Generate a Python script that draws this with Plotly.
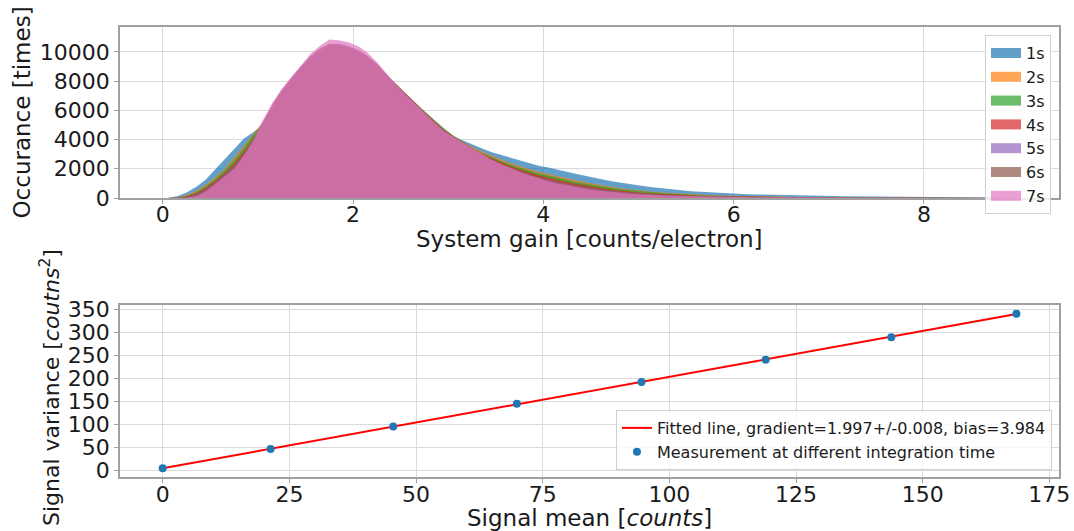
import plotly.graph_objects as go

# ---------------- data ----------------
bin_centers = [round(0.05 + 0.1 * i, 2) for i in range(90)]

gain_1s = [0, 120, 380, 750, 1250, 1950, 2650, 3350, 4050, 4500,
           5000, 6000, 7000, 7900, 8700, 9300, 9750, 10000, 10050, 9950,
           9700, 9300, 8750, 8150, 7500, 6900, 6300, 5700, 5150, 4650,
           4250, 3950, 3650, 3400, 3150, 2950, 2750, 2550, 2350, 2200,
           2080, 1950, 1800, 1650, 1500, 1350, 1230, 1110, 1000, 900,
           820, 740, 660, 590, 530, 470, 420, 380, 345, 315,
           290, 265, 245, 225, 210, 195, 180, 168, 156, 145,
           135, 126, 118, 110, 103, 96, 90, 84, 78, 73,
           68, 64, 60, 56, 52, 48, 45, 42, 38, 30]
gain_2s = [0, 40, 200, 480, 900, 1400, 2000, 2750, 3550, 4350,
           5200, 6200, 7200, 8050, 8850, 9500, 9950, 10250, 10300, 10150,
           9900, 9500, 8950, 8300, 7650, 7000, 6400, 5800, 5250, 4700,
           4250, 3850, 3500, 3200, 2900, 2650, 2400, 2180, 1980, 1800,
           1640, 1480, 1330, 1190, 1060, 940, 830, 730, 640, 560,
           490, 430, 375, 330, 290, 255, 225, 200, 178, 158,
           140, 125, 112, 100, 90, 80, 72, 65, 58, 52,
           47, 42, 38, 34, 31, 28, 25, 23, 21, 19,
           17, 15, 14, 12, 11, 10, 9, 8, 6, 0]
gain_3s = [0, 20, 150, 400, 800, 1300, 1900, 2600, 3400, 4250,
           5150, 6150, 7150, 8050, 8850, 9500, 10000, 10300, 10350, 10200,
           9950, 9550, 9000, 8400, 7800, 7150, 6550, 5950, 5350, 4800,
           4300, 3850, 3450, 3100, 2800, 2550, 2300, 2080, 1880, 1700,
           1540, 1390, 1240, 1100, 970, 860, 760, 670, 590, 520,
           455, 400, 350, 305, 265, 232, 203, 178, 157, 138,
           122, 108, 96, 85, 76, 68, 61, 54, 48, 43,
           38, 34, 30, 27, 24, 22, 20, 18, 16, 14,
           13, 11, 10, 9, 8, 7, 6, 5, 4, 0]
gain_4s = [0, 10, 100, 320, 680, 1150, 1700, 2350, 3150, 4000,
           5100, 6200, 7200, 8100, 8900, 9550, 10050, 10400, 10450, 10300,
           10050, 9650, 9100, 8450, 7800, 7150, 6500, 5900, 5300, 4700,
           4250, 3800, 3400, 3050, 2720, 2440, 2180, 1950, 1740, 1550,
           1380, 1220, 1080, 950, 830, 720, 625, 540, 465, 400,
           345, 300, 260, 225, 195, 170, 150, 132, 117, 104,
           93, 83, 74, 66, 59, 53, 47, 42, 38, 34,
           30, 27, 24, 21, 19, 17, 15, 13, 12, 10,
           9, 8, 7, 6, 5, 4, 3, 2, 1, 0]
gain_5s = [0, 0, 40, 220, 560, 1050, 1580, 2200, 3000, 3950,
           5150, 6300, 7300, 8150, 8950, 9650, 10150, 10500, 10500, 10350,
           10100, 9700, 9150, 8450, 7750, 7100, 6450, 5850, 5200, 4600,
           4150, 3720, 3320, 2950, 2620, 2330, 2060, 1820, 1600, 1410,
           1240, 1090, 950, 825, 715, 615, 530, 455, 390, 335,
           288, 248, 214, 185, 160, 139, 121, 106, 93, 82,
           73, 65, 58, 52, 46, 41, 37, 33, 29, 26,
           23, 20, 18, 16, 14, 12, 11, 10, 9, 8,
           7, 6, 5, 4, 3, 3, 2, 1, 1, 0]
gain_6s = [0, 0, 20, 170, 500, 1000, 1500, 2100, 2950, 3920,
           5200, 6400, 7400, 8250, 9000, 9700, 10250, 10550, 10550, 10400,
           10150, 9750, 9200, 8450, 7750, 7100, 6450, 5850, 5180, 4580,
           4150, 3700, 3300, 2920, 2580, 2280, 2000, 1760, 1540, 1340,
           1170, 1020, 880, 760, 650, 555, 470, 400, 340, 290,
           250, 215, 185, 160, 140, 122, 107, 95, 84, 76,
           68, 60, 54, 48, 43, 39, 35, 31, 28, 25,
           22, 20, 18, 16, 14, 12, 11, 10, 9, 8,
           7, 6, 5, 4, 4, 3, 2, 2, 1, 0]
gain_7s = [0, 0, 10, 120, 450, 950, 1450, 2000, 2900, 3900,
           5300, 6500, 7450, 8250, 9050, 9850, 10400, 10850, 10800, 10650,
           10400, 9950, 9300, 8500, 7750, 7100, 6450, 5850, 5200, 4600,
           4200, 3800, 3400, 3000, 2650, 2350, 2050, 1800, 1550, 1330,
           1150, 1000, 860, 740, 630, 530, 450, 380, 320, 270,
           230, 200, 170, 150, 130, 115, 100, 90, 80, 75,
           65, 58, 52, 46, 42, 38, 34, 30, 27, 24,
           21, 19, 17, 15, 13, 12, 11, 10, 9, 8,
           7, 6, 5, 4, 4, 3, 2, 2, 1, 0]

series_names = ["1s", "2s", "3s", "4s", "5s", "6s", "7s"]
series_values = [gain_1s, gain_2s, gain_3s, gain_4s, gain_5s, gain_6s, gain_7s]
series_colors = ["31,119,180", "255,127,14", "44,160,44", "214,39,40",
                 "148,103,189", "140,86,75", "227,119,194"]

signal_mean = [0, 21.3, 45.5, 69.9, 94.5, 119.0, 143.8, 168.5]
signal_variance = [4, 46, 95, 145, 192, 241, 290, 341]
fit_gradient = 1.997
fit_bias = 3.984
fit_label = "Fitted line, gradient=1.997+/-0.008, bias=3.984"
meas_label = "Measurement at different integration time"

gain_ticks = [0, 2, 4, 6, 8]
count_ticks = [0, 2000, 4000, 6000, 8000, 10000]
mean_ticks = [0, 25, 50, 75, 100, 125, 150, 175]
var_ticks = [0, 50, 100, 150, 200, 250, 300, 350]

# ---------------- figure ----------------
FONT = "DejaVu Sans"
TXT = "#1a1a1a"
ALPHA = 0.7
fig = go.Figure()

for name, vals, rgb in zip(series_names, series_values, series_colors):
    fig.add_trace(go.Scatter(
        x=bin_centers, y=vals, mode="lines", fill="tozeroy",
        line=dict(width=0, color=f"rgba({rgb},0)"),
        fillcolor=f"rgba({rgb},{ALPHA})",
        showlegend=False, hoverinfo="skip", xaxis="x", yaxis="y"))
for name, rgb in zip(series_names, series_colors):
    fig.add_trace(go.Scatter(
        x=[None], y=[None], mode="lines", name=name,
        line=dict(width=10, color=f"rgba({rgb},{ALPHA})"),
        xaxis="x", yaxis="y", legend="legend"))

fit_y = [fit_bias + fit_gradient * m for m in signal_mean]
fig.add_trace(go.Scatter(
    x=signal_mean, y=fit_y, mode="lines", name=fit_label,
    line=dict(color="red", width=2), xaxis="x2", yaxis="y2", legend="legend2"))
fig.add_trace(go.Scatter(
    x=signal_mean, y=signal_variance, mode="markers", name=meas_label,
    marker=dict(color="#1f77b4", size=8), xaxis="x2", yaxis="y2", legend="legend2"))

axis_common = dict(
    showgrid=True, gridcolor="#dadada", gridwidth=1, zeroline=False,
    showline=True, linecolor="#a0a0a0", linewidth=1.5, mirror=True,
    ticks="outside", ticklen=4, tickcolor="#a0a0a0", tickformat="d",
    tickfont=dict(family=FONT, size=22, color=TXT), automargin=False,
)

# plot area: x 120..1059 px, y 27..477 px
def px_x(p):
    return (p - 120) / 939.0

def px_y(p):
    return (477 - p) / 450.0

title_font = dict(family=FONT, size=23, color=TXT)
annotations = [
    dict(text="System gain [counts/electron]", x=0.5, y=px_y(239),
         xref="paper", yref="paper", xanchor="center", yanchor="middle",
         showarrow=False, font=title_font),
    dict(text="Signal mean [<i>counts</i>]", x=0.5, y=px_y(518),
         xref="paper", yref="paper", xanchor="center", yanchor="middle",
         showarrow=False, font=title_font),
    dict(text="Occurance [times]", x=px_x(22), y=px_y(112.5), textangle=-90,
         xref="paper", yref="paper", xanchor="center", yanchor="middle",
         showarrow=False, font=title_font),
    dict(text="Signal variance [<i>coutns</i><sup>2</sup>]", x=px_x(50), y=px_y(388),
         textangle=-90, xref="paper", yref="paper", xanchor="center", yanchor="middle",
         showarrow=False, font=dict(family=FONT, size=22, color=TXT)),
]

fig.update_layout(
    width=1074, height=531,
    margin=dict(l=120, r=15, t=27, b=54),
    paper_bgcolor="white", plot_bgcolor="white",
    font=dict(family=FONT, color=TXT),
    xaxis=dict(axis_common, domain=[0, 1], anchor="y", range=[-0.45, 9.42],
               tickvals=gain_ticks, ticklabelstandoff=-8),
    yaxis=dict(axis_common, domain=[0.62, 1], anchor="x", range=[0, 11700],
               tickvals=count_ticks),
    xaxis2=dict(axis_common, domain=[0, 1], anchor="y2", range=[-8.43, 176.9],
                tickvals=mean_ticks, ticklabelstandoff=-7),
    yaxis2=dict(axis_common, domain=[0, 0.382], anchor="x2", range=[-15, 360],
                tickvals=var_ticks),
    annotations=annotations,
    legend=dict(x=0.9915, y=0.982, xanchor="right", yanchor="top",
                bgcolor="rgba(255,255,255,0.8)", bordercolor="#d0d0d0", borderwidth=1,
                font=dict(family=FONT, size=16, color=TXT), itemwidth=30,
                tracegroupgap=0),
    legend2=dict(x=0.9925, y=0.0156, xanchor="right", yanchor="bottom",
                 bgcolor="rgba(255,255,255,0.8)", bordercolor="#d0d0d0", borderwidth=1,
                 font=dict(family=FONT, size=16, color=TXT), itemwidth=30),
)

fig.write_html("out.html")
